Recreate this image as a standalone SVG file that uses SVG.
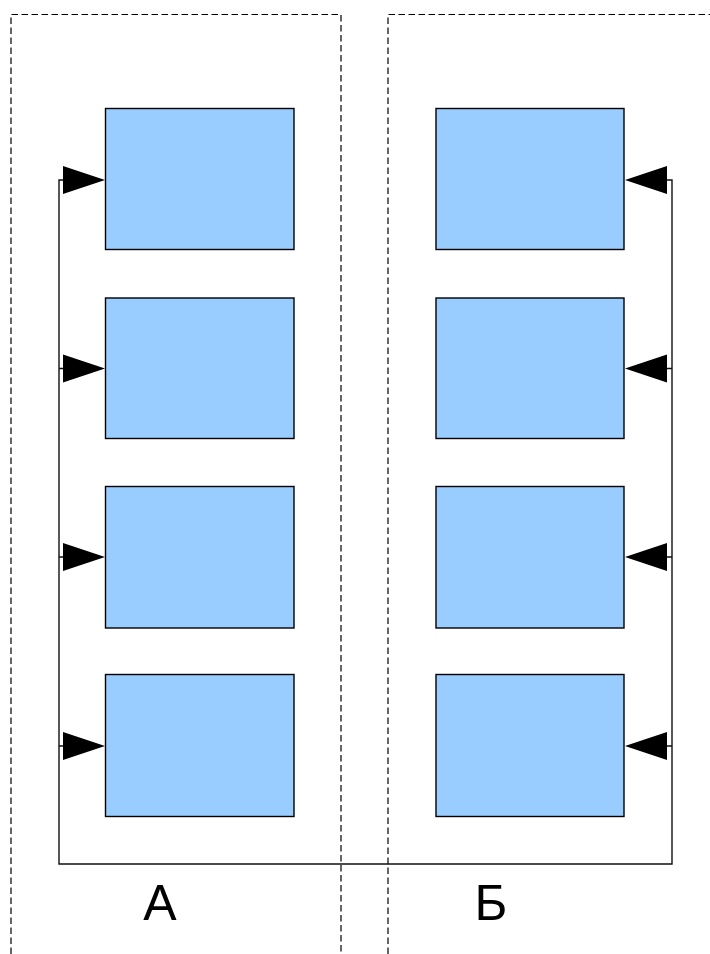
<svg xmlns="http://www.w3.org/2000/svg" width="710" height="954" viewBox="0 0 710 954">
<style>
.box{fill:#99ccff;stroke:#000;stroke-width:1.4}
.dash{fill:none;stroke:#000;stroke-width:1.2;stroke-dasharray:6.5 3.5}
.wire{fill:none;stroke:#111;stroke-width:1.4}
.head{fill:#000}
.label{font-family:"Liberation Sans",Arial,sans-serif;font-size:50px;fill:#000;text-anchor:middle}
</style>
<rect width="710" height="954" fill="#fff"/>
<g id="region-a"><path class="dash" d="M11 954V14.500H341V952"/><text class="label" x="160" y="920">А</text></g>
<g id="region-b"><path class="dash" d="M388 954V14.500H710"/><text class="label" x="491" y="920">Б</text></g>
<g id="connectors">
<path class="wire" d="M63 180H59V864H672V180H667"/>
<path class="wire" d="M59 368.500H63M59 557H63M59 746H63M672 368.500H667M672 557H667M672 746H667"/>
<path class="head" d="M105 180L63 166V194Z"/>
<path class="head" d="M105 368.500L63 354.500V382.500Z"/>
<path class="head" d="M105 557L63 543V571Z"/>
<path class="head" d="M105 746L63 732V760Z"/>
<path class="head" d="M625 180L667 166V194Z"/>
<path class="head" d="M625 368.500L667 354.500V382.500Z"/>
<path class="head" d="M625 557L667 543V571Z"/>
<path class="head" d="M625 746L667 732V760Z"/>
</g>
<g id="a1"><rect class="box" x="105.500" y="108.500" width="188.500" height="141"/></g>
<g id="a2"><rect class="box" x="105.500" y="298" width="188.500" height="140.500"/></g>
<g id="a3"><rect class="box" x="105.500" y="486.500" width="188.500" height="141.500"/></g>
<g id="a4"><rect class="box" x="105.500" y="674.500" width="188.500" height="142"/></g>
<g id="b1"><rect class="box" x="436" y="108.500" width="188" height="141"/></g>
<g id="b2"><rect class="box" x="436" y="298" width="188" height="140.500"/></g>
<g id="b3"><rect class="box" x="436" y="486.500" width="188" height="141.500"/></g>
<g id="b4"><rect class="box" x="436" y="674.500" width="188" height="142"/></g>
</svg>
